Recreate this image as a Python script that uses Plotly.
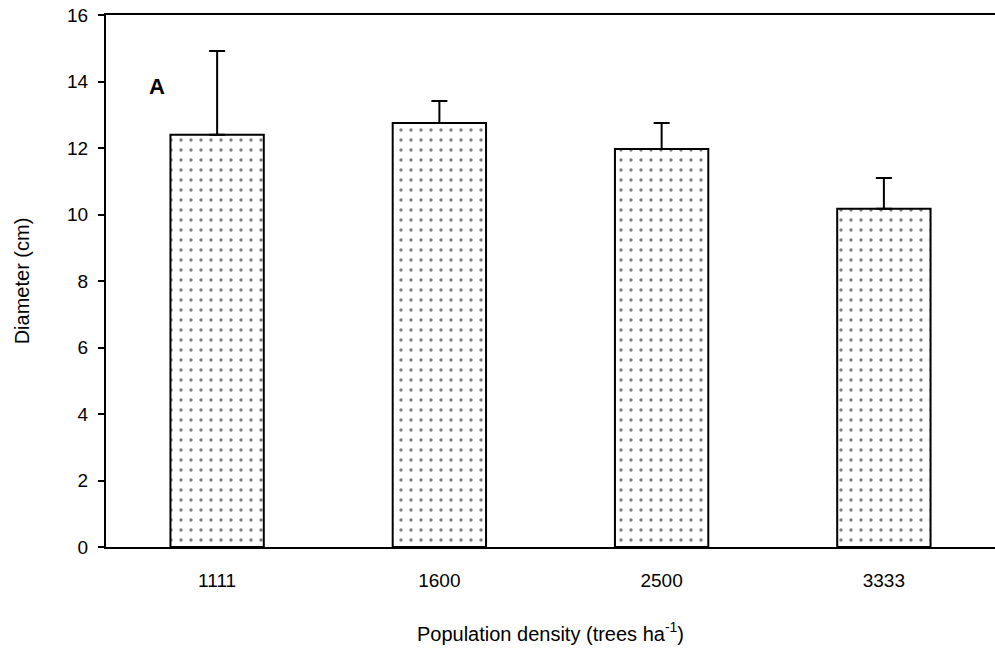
import plotly.graph_objects as go

categories = ["1111", "1600", "2500", "3333"]
diameter = [12.4, 12.75, 11.97, 10.17]
error_up = [2.52, 0.66, 0.78, 0.93]
y_ticks = [0, 2, 4, 6, 8, 10, 12, 14, 16]

FONT = "Arial, Liberation Sans, sans-serif"

fig = go.Figure()
fig.add_trace(go.Bar(
    x=categories,
    y=diameter,
    marker=dict(
        color="white",
        line=dict(color="black", width=2),
        pattern=dict(shape=".", fgcolor="black", bgcolor="white", size=10, solidity=0.09),
    ),
    error_y=dict(type="data", symmetric=False, array=error_up, arrayminus=[0]*4,
                 color="black", thickness=2, width=8),
    showlegend=False,
))

fig.add_annotation(x=-0.27, y=13.85, xref="x", yref="y", text="<b>A</b>", showarrow=False,
                   font=dict(family=FONT, size=22, color="black"))

fig.update_layout(
    width=995, height=653,
    margin=dict(l=106, r=0, t=15, b=106),
    paper_bgcolor="white", plot_bgcolor="white",
    bargap=0.58,
    font=dict(family=FONT, color="black", size=19),
    xaxis=dict(
        showline=True, linecolor="black", linewidth=2, mirror=True,
        ticks="", ticklabelstandoff=15,
        tickfont=dict(size=19),
        title=dict(text="Population density (trees ha<sup>-1</sup>)", font=dict(size=20), standoff=37),
        showgrid=False,
    ),
    yaxis=dict(
        range=[0, 16], tickvals=y_ticks,
        showline=True, linecolor="black", linewidth=2,
        ticks="outside", ticklen=6, tickwidth=1.5, tickcolor="black",
        ticklabelstandoff=6,
        tickfont=dict(size=19),
        title=dict(text="Diameter (cm)", font=dict(size=20), standoff=32),
        showgrid=False, zeroline=False,
    ),
)

fig.write_html("out.html")
